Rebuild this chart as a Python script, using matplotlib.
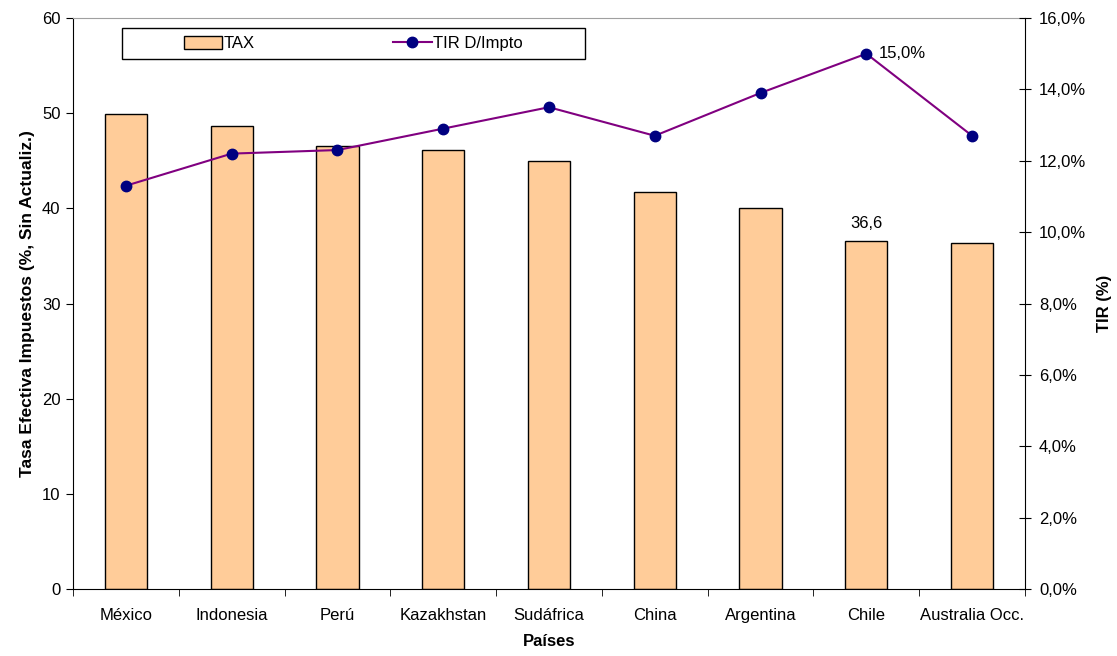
import matplotlib.pyplot as plt
import numpy as np
from matplotlib.ticker import FuncFormatter
from matplotlib.patches import Rectangle

paises = ["México", "Indonesia", "Perú", "Kazakhstan", "Sudáfrica",
          "China", "Argentina", "Chile", "Australia Occ."]
tax = [49.9, 48.6, 46.5, 46.1, 45.0, 41.7, 40.0, 36.6, 36.4]
tir = [11.3, 12.2, 12.3, 12.9, 13.5, 12.7, 13.9, 15.0, 12.7]

plt.rcParams['font.family'] = ['Liberation Sans', 'DejaVu Sans']

fig = plt.figure(figsize=(11.17, 6.56), dpi=100)
ax = fig.add_axes([73 / 1117, 1 - 589 / 656, 952 / 1117, 571 / 656])

x = np.arange(len(paises))
bars = ax.bar(x, tax, width=0.4, color="#FFCC99", edgecolor="black",
              linewidth=1.0, label="TAX", zorder=2)
ax.set_xlim(-0.5, len(paises) - 0.5)
ax.set_ylim(0, 60)
ax.set_yticks(range(0, 61, 10))
ax.tick_params(axis='y', labelsize=12, length=5, direction='out', pad=4)

# category labels centred, tick marks between categories
ax.set_xticks(x)
ax.set_xticklabels(paises, fontsize=12)
ax.tick_params(axis='x', length=0, pad=14)
ax.set_xticks(np.arange(-0.5, len(paises), 1), minor=True)
ax.tick_params(axis='x', which='minor', length=5, direction='out')

ax.set_xlabel("Países", fontsize=12, fontweight='bold')
ax.xaxis.set_label_coords(0.5, -0.079)
ax.set_ylabel("Tasa Efectiva Impuestos (%, Sin Actualiz.)", fontsize=12.5,
              fontweight='bold')
ax.yaxis.set_label_coords(-0.040, 0.5)

ax.spines['top'].set_color('#a0a0a0')
ax.spines['right'].set_visible(False)

ax.text(x[7], tax[7] + 1.0, "36,6", ha='center', va='bottom', fontsize=12)

ax2 = ax.twinx()
ax2.set_ylim(0, 16)
ax2.set_yticks(range(0, 17, 2))
ax2.yaxis.set_major_formatter(FuncFormatter(lambda v, p: f"{v:.1f}%".replace('.', ',')))
ax2.tick_params(axis='y', labelsize=12, length=8, direction='inout', pad=6)
line, = ax2.plot(x, tir, color="#800080", linewidth=1.5, marker='o',
                 markersize=7.5, markerfacecolor="#000080",
                 markeredgecolor="#000080", label="TIR D/Impto", zorder=3)
for s in ['top', 'left', 'bottom']:
    ax2.spines[s].set_visible(False)
ax2.set_ylabel("TIR (%)", fontsize=12, fontweight='bold')
ax2.yaxis.set_label_coords(1.0756, 0.5)

ax2.annotate("15,0%", (x[7], tir[7]), xytext=(9, 0), textcoords='offset points',
             ha='left', va='center', fontsize=12)

# legend box with entries centred inside
box = Rectangle((0.0515, 0.928), 0.486, 0.054, transform=ax.transAxes,
                facecolor='white', edgecolor='black', linewidth=1.0, zorder=5)
ax2.add_patch(box)
box.set_clip_on(False)
leg = ax2.legend([bars, line], ["TAX", "TIR D/Impto"], ncol=2, fontsize=12,
                 loc='center', bbox_to_anchor=(0.0515 + 0.243, 0.955),
                 bbox_transform=ax.transAxes, frameon=False,
                 handlelength=2.3, handleheight=0.8, handletextpad=0.1,
                 columnspacing=8.3)
leg.set_zorder(6)

fig.savefig("out.png", dpi=100)
